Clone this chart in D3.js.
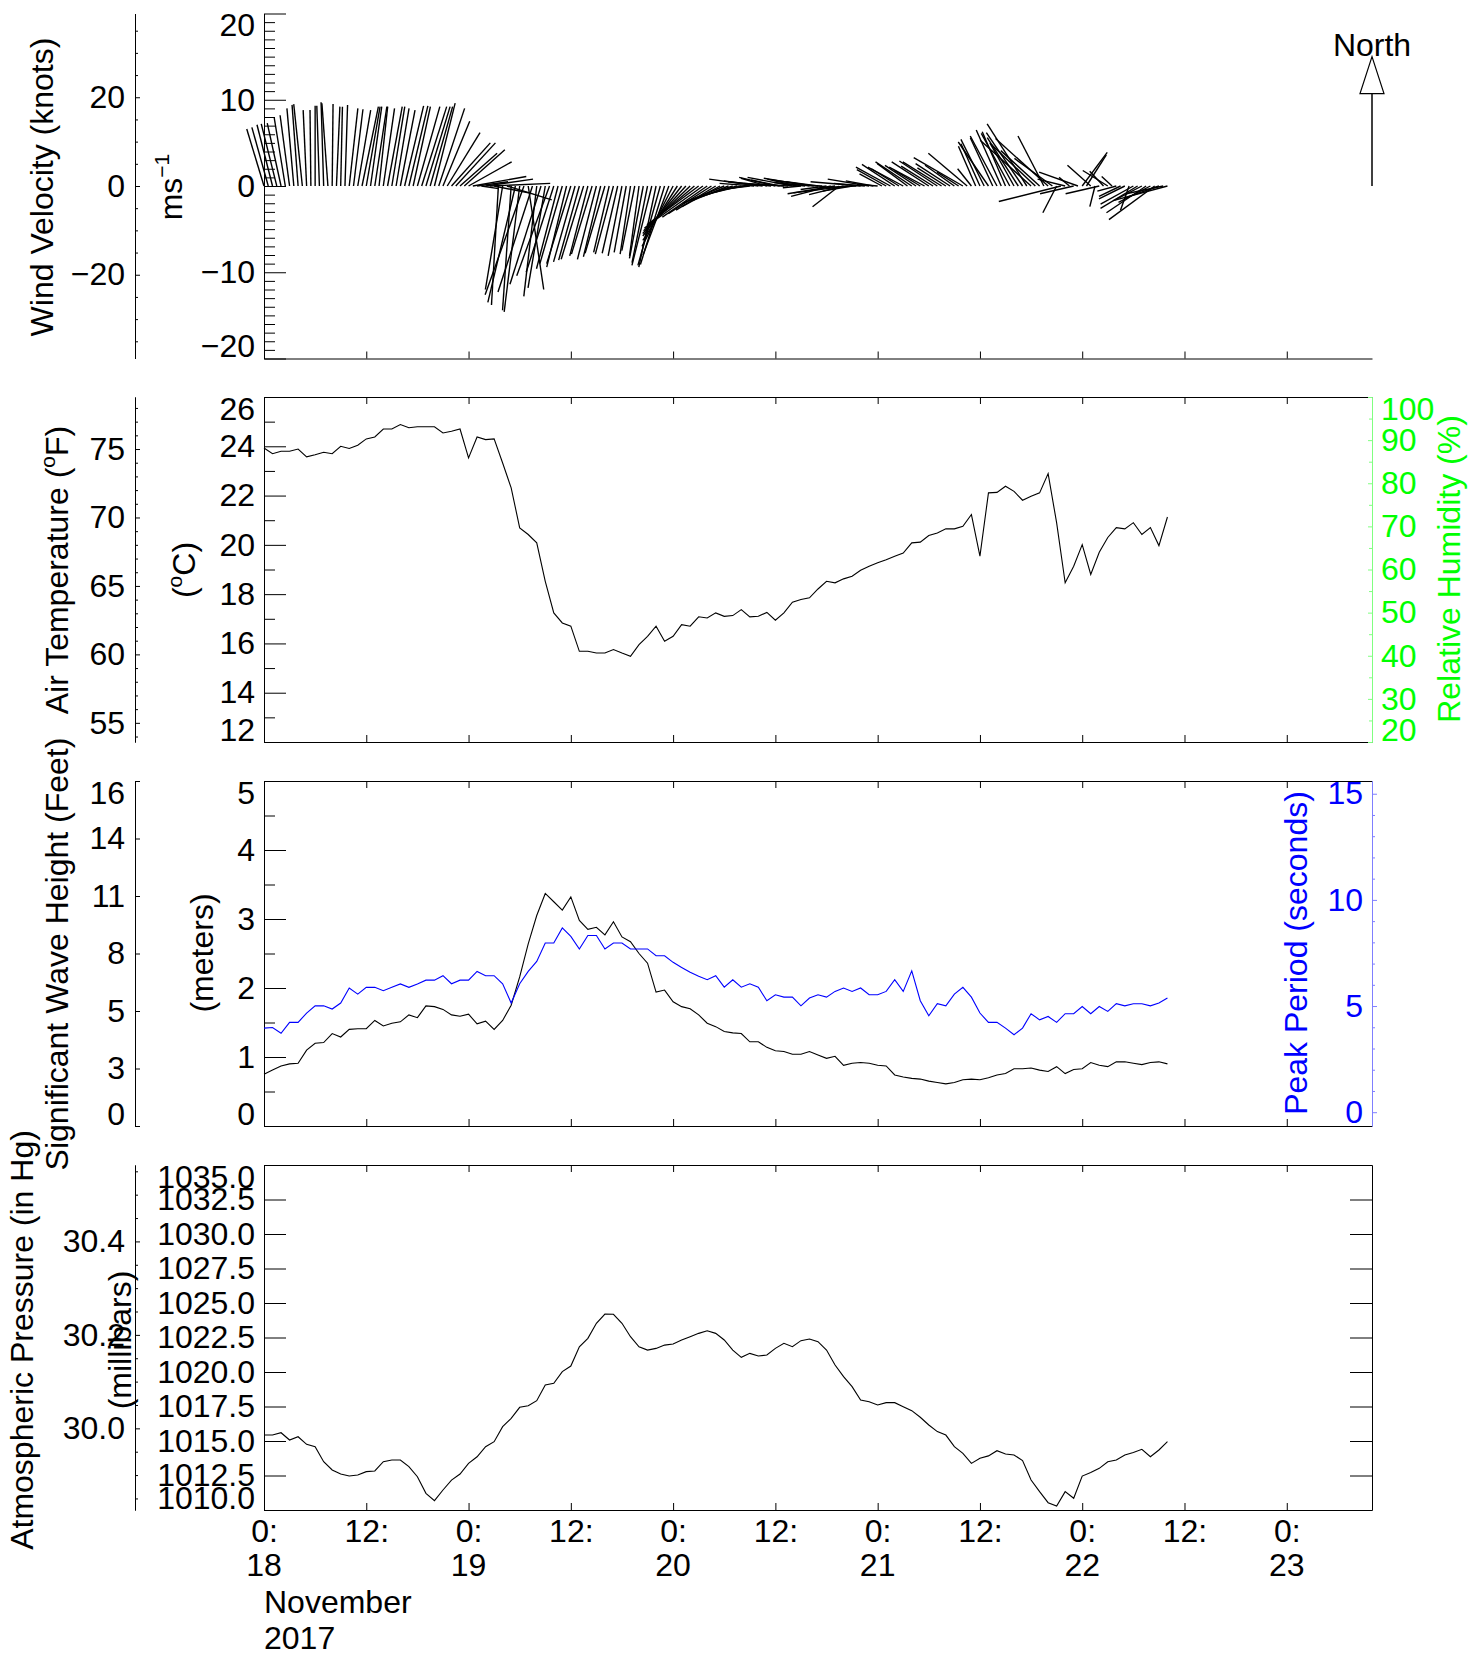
<!DOCTYPE html>
<html>
<head>
<meta charset="utf-8">
<title>Buoy data, November 2017</title>
<script src="https://cdnjs.cloudflare.com/ajax/libs/d3/7.8.5/d3.min.js"></script>
<style>
  body { margin: 0; background: #fff; }
  svg { display: block; }
</style>
</head>
<body>
<div id="chart"></div>
<script>
// ---- data ----
// record starts 18 Nov 2017 00:00; hourly series unless noted
var startTime = Date.UTC(2017, 10, 18, 0);

var tempC = [23.93,23.70,23.80,23.80,23.89,23.57,23.66,23.76,23.70,24.00,
  23.91,24.04,24.30,24.38,24.70,24.70,24.88,24.75,24.79,24.79,
  24.79,24.54,24.61,24.70,23.53,24.38,24.27,24.30,23.32,22.31,
  20.69,20.42,20.08,18.52,17.24,16.83,16.70,15.68,15.68,15.61,
  15.61,15.75,15.61,15.48,15.95,16.29,16.70,16.09,16.29,16.76,
  16.70,17.08,17.03,17.24,17.10,17.13,17.37,17.08,17.10,17.26,
  16.94,17.24,17.67,17.78,17.85,18.21,18.52,18.46,18.62,18.73,
  18.97,19.13,19.27,19.40,19.54,19.67,20.08,20.11,20.38,20.48,
  20.65,20.65,20.75,21.23,19.54,22.11,22.13,22.38,22.17,21.81,
  21.97,22.11,22.89,20.89,18.46,19.13,20.01,18.80,19.70,20.30,
  20.70,20.65,20.90,20.42,20.70,19.97,21.13];

var waveHeightM = [0.75,0.81,0.87,0.90,0.91,1.10,1.20,1.21,1.34,1.29,
  1.40,1.41,1.41,1.53,1.45,1.49,1.51,1.61,1.57,1.74,
  1.73,1.69,1.61,1.59,1.62,1.48,1.52,1.40,1.53,1.75,
  2.16,2.64,3.05,3.37,3.25,3.13,3.32,2.98,2.85,2.88,
  2.77,2.96,2.74,2.67,2.50,2.36,1.94,1.97,1.80,1.73,
  1.70,1.61,1.49,1.44,1.37,1.35,1.34,1.22,1.22,1.14,
  1.09,1.08,1.04,1.04,1.08,1.03,0.98,1.01,0.88,0.91,
  0.92,0.91,0.88,0.87,0.74,0.71,0.69,0.68,0.65,0.63,
  0.61,0.63,0.67,0.68,0.67,0.70,0.74,0.76,0.83,0.83,
  0.84,0.81,0.79,0.86,0.76,0.82,0.83,0.92,0.88,0.86,
  0.93,0.93,0.91,0.89,0.92,0.93,0.90];

var peakPeriodS = [3.96,3.99,3.72,4.23,4.23,4.67,5.01,5.01,4.86,5.14,
  5.85,5.56,5.88,5.88,5.72,5.88,6.04,5.88,6.04,6.22,
  6.22,6.43,6.05,6.22,6.22,6.63,6.43,6.43,6.05,5.14,
  6.05,6.63,7.10,7.97,7.97,8.68,8.28,7.69,8.32,8.32,
  7.69,7.97,7.97,7.69,7.69,7.69,7.37,7.37,7.06,6.82,
  6.59,6.40,6.24,6.43,5.89,6.24,5.89,6.05,5.89,5.25,
  5.53,5.42,5.42,5.01,5.38,5.53,5.42,5.69,5.85,5.69,
  5.85,5.53,5.53,5.69,6.24,5.69,6.66,5.25,4.54,5.11,
  5.01,5.56,5.88,5.42,4.67,4.23,4.23,3.96,3.65,3.96,
  4.64,4.35,4.51,4.23,4.64,4.64,4.98,4.64,4.98,4.75,
  5.11,5.01,5.11,5.11,5.01,5.14,5.38];

var pressureMb = [1015.43,1015.43,1015.60,1015.07,1015.31,1014.76,1014.59,1013.50,1012.90,1012.61,
  1012.46,1012.54,1012.78,1012.83,1013.50,1013.62,1013.62,1013.14,1012.41,1011.21,
  1010.68,1011.45,1012.17,1012.61,1013.38,1013.86,1014.59,1014.95,1016.04,1016.64,
  1017.44,1017.56,1017.92,1019.06,1019.18,1020.03,1020.43,1021.83,1022.44,1023.53,
  1024.20,1024.18,1023.53,1022.56,1021.83,1021.59,1021.71,1021.95,1022.03,1022.32,
  1022.56,1022.80,1022.99,1022.80,1022.32,1021.59,1021.06,1021.35,1021.16,1021.23,
  1021.71,1022.08,1021.83,1022.27,1022.39,1022.20,1021.59,1020.51,1019.66,1018.94,
  1017.97,1017.85,1017.61,1017.78,1017.78,1017.49,1017.20,1016.72,1016.16,1015.68,
  1015.43,1014.59,1014.11,1013.38,1013.75,1013.92,1014.30,1014.06,1013.99,1013.58,
  1012.17,1011.33,1010.53,1010.29,1011.33,1010.85,1012.46,1012.71,1013.02,1013.50,
  1013.62,1013.99,1014.16,1014.40,1013.86,1014.35,1014.95];

// wind every 30 minutes (m/s): u towards east, v towards north
var windU = [-2.0,-1.9,-1.8,-1.8,-1.6,-1.3,-1.1,-0.8,-0.7,-1.0,-0.4,-0.1,0.0,-0.3,-0.3,-0.7,0.1,0.4,0.2,0.3,
  1.0,1.1,1.5,1.9,1.6,1.3,1.4,1.0,1.3,1.7,1.5,1.5,1.7,2.2,2.2,2.0,2.6,2.9,2.8,2.6,2.4,3.0,
  3.1,3.8,4.5,4.6,4.3,4.7,5.0,6.2,3.6,2.0,
  5.5,7.0,4.0,-0.8,-2.0,5.2,-1.0,-3.2,-1.8,-4.5,1.8,-4.0,-1.5,-3.6,-2.0,-3.8,-3.2,-2.5,-2.6,-2.3,
  -2.8,-2.5,-2.4,-2.6,-2.1,-2.4,-2.2,-2.0,-2.3,-1.8,-2.1,-1.8,-1.6,-1.4,-1.2,-1.5,-1.1,-1.6,-1.8,-2.3,
  -2.0,-2.6,-2.8,
  -3.0,-3.6,-4.0,-4.5,-5.0,-5.4,-5.8,-6.0,-5.6,-5.2,-5.0,-4.6,-4.4,-4.8,-4.2,-3.8,-3.5,-3.0,-2.6,
  -2.5,-4.0,-5.7,-4.5,-3.0,-5.0,-4.2,-3.3,-4.6,-3.2,-5.2,-3.4,-2.1,-3.6,-5.3,-4.8,-3.7,-4.4,-3.0,-4.6,
  -5.5,-3.1,-4.0,-6.3,-3.4,-4.3,-5.8,-3.6,-4.8,-3.2,-2.4,
  -2.6,-3.4,-4.0,-3.8,-3.2,-4.1,-3.5,-4.2,-3.6,-3.0,-4.1,-4.3,-3.7,-4.4,-4.5,-3.3,-4.0,-3.4,-2.5,-5.7,
  -4.5,-1.6,-2.0,-2.2,-2.7,-3.5,-2.6,-3.1,-2.9,-2.7,-3.3,-2.8,-3.6,-4.2,-4.6,-5.9,-5.1,-4.5,-3.0,-6.1,
  -4.4,-1.6,-7.2,-3.2,-1.2,-3.9,-4.5,2.9,2.3,-2.7,-0.6,-3.9,-1.6,-2.9,-1.2,-2.2,-2.5,-3.0,-1.0,-3.8,
  -4.3,-3.1,-4.6,-3.7,-5.3,-4.0,-4.3,-6.3];
var windV = [6.6,6.8,7.1,7.2,7.3,8.0,8.2,9.0,9.4,9.5,8.8,8.8,9.3,9.3,9.7,9.6,9.5,9.2,9.2,9.4,
  9.0,8.9,8.8,9.2,9.2,9.2,9.2,9.2,9.0,9.2,9.2,9.0,8.8,9.3,9.3,9.2,9.2,9.2,9.2,9.2,9.6,9.0,
  7.5,6.2,5.0,5.0,3.8,4.2,2.8,1.1,0.5,-0.3,
  0.8,0.3,-0.8,-13.8,-12.0,-1.6,-14.4,-13.5,-14.6,-12.6,-12.0,-12.3,-12.8,-11.4,-11.8,-10.4,-10.0,-9.6,-9.0,-9.4,
  -9.0,-8.8,-8.6,-8.5,-8.1,-7.9,-8.5,-8.2,-7.8,-7.7,-7.9,-7.8,-8.1,-7.7,-7.9,-7.5,-8.1,-8.4,-8.9,-9.2,
  -9.4,-9.2,-9.1,
  -8.0,-7.0,-6.3,-5.8,-5.5,-5.2,-4.9,-4.5,-4.0,-3.6,-3.2,-2.8,-2.4,-2.0,-1.7,-1.3,-1.0,-0.7,-0.4,
  -0.3,0.3,0.8,0.6,0.9,0.5,1.0,0.7,0.3,0.2,1.0,0.8,-0.2,0.4,0.9,0.7,0.5,0.2,-0.4,-1.2,
  -0.9,-2.4,-1.0,-0.8,-0.6,-0.2,0.5,0.3,0.8,0.6,0.2,
  1.4,1.9,2.2,2.5,2.0,2.2,2.6,2.8,2.4,1.8,2.2,2.8,2.3,2.9,2.8,2.1,2.6,2.4,1.6,3.3,
  3.8,2.0,4.6,4.9,5.4,5.1,5.6,5.8,6.5,6.3,6.1,5.0,5.6,6.2,7.2,5.3,4.8,4.1,5.8,5.5,
  3.2,-3.1,-1.8,0.8,1.0,-0.9,1.6,3.9,3.6,2.4,-2.4,-0.9,1.7,1.8,1.1,-0.6,-1.2,-1.5,-2.8,-2.1,
  -2.6,-1.6,-3.1,-1.9,-3.9,-1.4,-0.9,-1.7];

var hourLabels = ['0:', '12:'];
var dayLabels = ['18', '19', '20', '21', '22', '23'];
var monthLabel = 'November';
var yearLabel = '2017';
var feetTickLabels = ['0', '3', '5', '8', '11', '14', '16'];

// ---- layout ----
var width = 1473, height = 1655;
var left = 264, right = 1372, outerX = 135;
var panelTops = [13.5, 397, 781, 1165];
var panelH = 345;
var font = '"Liberation Sans", Arial, Helvetica, sans-serif';
var HOUR = 3600 * 1000;

var svg = d3.select('#chart').append('svg')
    .attr('width', width)
    .attr('height', height)
    .attr('font-family', font)
    .attr('font-size', 32);

svg.append('rect').attr('width', width).attr('height', height).attr('fill', '#fff');

var x = d3.scaleUtc()
    .domain([new Date(startTime), new Date(startTime + 130 * HOUR)])
    .range([left, right]);

function hourly(i) { return new Date(startTime + i * HOUR); }
function halfHourly(i) { return new Date(startTime + i * HOUR / 2); }

var xTicks = d3.utcHour.every(12).range(x.domain()[0], x.domain()[1]);
var dayTicks = d3.utcDay.range(x.domain()[0], x.domain()[1]);

// y axis with ticks pointing into the plot, end labels kept inside the frame
function yAxis(x0, axisFn, scale, majors, minors, fmt, majorLen, minorLen, pad, top, bottom, lineColor, textColor) {
  var g = svg.append('g').attr('transform', 'translate(' + x0 + ',0)');
  if (minors.length) {
    g.append('g').call(axisFn(scale).tickValues(minors).tickSize(-minorLen).tickSizeOuter(0).tickFormat(''));
  }
  var gm = g.append('g').call(axisFn(scale).tickValues(majors).tickSize(-majorLen)
      .tickSizeOuter(0).tickPadding(pad).tickFormat(fmt));
  g.selectAll('path.domain, .tick line').attr('stroke', lineColor);
  gm.selectAll('.tick text')
      .attr('fill', textColor)
      .attr('font-family', font)
      .attr('font-size', 32)
      .attr('transform', function(d) {
        var y = scale(d), s = 0;
        if (y < top + 12) s = top + 12 - y;
        if (y > bottom - 12) s = bottom - 12 - y;
        return 'translate(0,' + s + ')';
      });
  return g;
}

function xFrame(top, bottom, withTop) {
  svg.append('g').attr('transform', 'translate(0,' + bottom + ')')
      .call(d3.axisBottom(x).tickValues(xTicks).tickSize(-7).tickSizeOuter(0).tickFormat(''));
  if (withTop) {
    svg.append('g').attr('transform', 'translate(0,' + top + ')')
        .call(d3.axisTop(x).tickValues(xTicks).tickSize(-7).tickSizeOuter(0).tickFormat(''));
  }
}

// rotated axis title, parts may be superscripts
function title(px, py, parts, color) {
  var t = svg.append('text')
      .attr('transform', 'translate(' + px + ',' + py + ') rotate(-90)')
      .attr('text-anchor', 'middle')
      .attr('fill', color || '#000');
  parts.forEach(function(p) {
    if (p.sup) {
      t.append('tspan').attr('font-size', 21).attr('dy', -13).text(p.sup);
    } else {
      t.append('tspan').attr('dy', p.after ? 13 : 0).text(p.t);
    }
  });
  return t;
}

var fmtInt = d3.format('d');

// ---- panel 1: wind ----
var p1Top = panelTops[0], p1Bot = p1Top + panelH;
var yWind = d3.scaleLinear().domain([-20, 20]).range([p1Bot, p1Top]);
var yKnots = d3.scaleLinear().domain([-20 * 1.94384, 20 * 1.94384]).range([p1Bot, p1Top]);

xFrame(p1Top, p1Bot, false);
yAxis(left, d3.axisLeft, yWind, [-20, -10, 0, 10, 20],
    d3.range(-19, 20).filter(function(v) { return v % 10 !== 0; }),
    fmtInt, 22, 11, 9, p1Top, p1Bot, '#000', '#000');
yAxis(outerX, d3.axisLeft, yKnots, [-20, 0, 20],
    d3.range(-35, 36, 5).filter(function(v) { return v % 20 !== 0; }),
    fmtInt, 5, 3, 10, p1Top, p1Bot, '#000', '#000');

var msPx = yWind(0) - yWind(1);
svg.append('g')
    .attr('stroke', '#000')
    .attr('stroke-width', 1.4)
  .selectAll('line')
  .data(windU)
  .join('line')
    .attr('x1', function(u, i) { return x(halfHourly(i)); })
    .attr('y1', yWind(0))
    .attr('x2', function(u, i) { return x(halfHourly(i)) + u * msPx; })
    .attr('y2', function(u, i) { return yWind(windV[i]); });

// north arrow (15 m/s)
var northX = x.range()[1], northTip = yWind(15);
svg.append('line')
    .attr('x1', northX).attr('x2', northX)
    .attr('y1', yWind(0)).attr('y2', northTip + 30)
    .attr('stroke', '#000').attr('stroke-width', 1.5);
svg.append('path')
    .attr('d', 'M' + northX + ',' + northTip + 'L' + (northX - 12) + ',' + (northTip + 37) +
      'L' + (northX + 12) + ',' + (northTip + 37) + 'Z')
    .attr('fill', '#fff').attr('stroke', '#000').attr('stroke-width', 1.2);
svg.append('text').attr('x', northX).attr('y', 56).attr('text-anchor', 'middle').text('North');

title(53, 187, [{t: 'Wind Velocity (knots)'}]);
title(182, 187, [{t: 'ms'}, {sup: '\u22121'}]);

// ---- panel 2: air temperature ----
var p2Top = panelTops[1], p2Bot = p2Top + panelH;
var yC = d3.scaleLinear().domain([12, 26]).range([p2Bot, p2Top]);
var yF = d3.scaleLinear().domain([12 * 1.8 + 32, 26 * 1.8 + 32]).range([p2Bot, p2Top]);
var yRH = d3.scaleLinear().domain([20, 100]).range([p2Bot, p2Top]);

xFrame(p2Top, p2Bot, true);
yAxis(left, d3.axisLeft, yC, d3.range(12, 27, 2), d3.range(13, 26, 2),
    fmtInt, 22, 11, 9, p2Top, p2Bot, '#000', '#000');
yAxis(outerX, d3.axisLeft, yF, [55, 60, 65, 70, 75],
    d3.range(54, 79).filter(function(v) { return v % 5 !== 0; }),
    fmtInt, 5, 3, 10, p2Top, p2Bot, '#000', '#000');
yAxis(right, d3.axisRight, yRH, d3.range(20, 101, 10), d3.range(25, 100, 10),
    fmtInt, 4, 3, 9, p2Top, p2Bot, '#80ff80', '#00ff00');

svg.append('path')
    .datum(tempC)
    .attr('fill', 'none').attr('stroke', '#000').attr('stroke-width', 1.1)
    .attr('d', d3.line().x(function(d, i) { return x(hourly(i)); }).y(function(d) { return yC(d); }));

title(68, 570, [{t: 'Air Temperature ('}, {sup: 'o'}, {t: 'F)', after: true}]);
title(195, 570, [{t: '('}, {sup: 'o'}, {t: 'C)', after: true}]);
title(1460, 569, [{t: 'Relative Humidity (%)'}], '#00ff00');

// ---- panel 3: waves ----
var p3Top = panelTops[2], p3Bot = p3Top + panelH;
var maxFeet = 5 * 3.28084;
var yM = d3.scaleLinear().domain([0, 5]).range([p3Bot, p3Top]);
var yFt = d3.scaleLinear().domain([0, maxFeet]).range([p3Bot, p3Top]);
var yS = d3.scaleLinear().domain([-0.65, 15.6]).range([p3Bot, p3Top]);

xFrame(p3Top, p3Bot, true);
yAxis(left, d3.axisLeft, yM, d3.range(0, 6), [0.5, 1.5, 2.5, 3.5, 4.5],
    fmtInt, 22, 11, 9, p3Top, p3Bot, '#000', '#000');
yAxis(outerX, d3.axisLeft, yFt,
    feetTickLabels.map(function(l, j) { return j * maxFeet / (feetTickLabels.length - 1); }), [],
    function(d, i) { return feetTickLabels[i]; }, 5, 3, 10, p3Top, p3Bot, '#000', '#000');
yAxis(right, d3.axisLeft, yS, [0, 5, 10, 15],
    d3.range(1, 15).filter(function(v) { return v % 5 !== 0; }),
    fmtInt, 5, 3, 9, p3Top, p3Bot, '#7f7fff', '#0000ff');

svg.append('path')
    .datum(waveHeightM)
    .attr('fill', 'none').attr('stroke', '#000').attr('stroke-width', 1.1)
    .attr('d', d3.line().x(function(d, i) { return x(hourly(i)); }).y(function(d) { return yM(d); }));
svg.append('path')
    .datum(peakPeriodS)
    .attr('fill', 'none').attr('stroke', '#0000ff').attr('stroke-width', 1.1)
    .attr('d', d3.line().x(function(d, i) { return x(hourly(i)); }).y(function(d) { return yS(d); }));

title(68, 954, [{t: 'Significant Wave Height (Feet)'}]);
title(213, 953, [{t: '(meters)'}]);
title(1307, 953, [{t: 'Peak Period (seconds)'}], '#0000ff');

// ---- panel 4: pressure ----
var p4Top = panelTops[3], p4Bot = p4Top + panelH;
var yP = d3.scaleLinear().domain([1010, 1035]).range([p4Bot, p4Top]);
var yIn = d3.scaleLinear().domain([1010 / 33.8639, 1035 / 33.8639]).range([p4Bot, p4Top]);

svg.append('g').attr('transform', 'translate(0,' + p4Top + ')')
    .call(d3.axisTop(x).tickValues(xTicks).tickSize(-7).tickSizeOuter(0).tickFormat(''));
var gx = svg.append('g').attr('transform', 'translate(0,' + p4Bot + ')')
    .call(d3.axisBottom(x).tickValues(xTicks).tickSize(-7).tickSizeOuter(0).tickPadding(9)
      .tickFormat(function(d, i) { return hourLabels[i % 2]; }));
gx.selectAll('text').attr('font-family', font).attr('font-size', 32).attr('fill', '#000');

svg.append('g').selectAll('text')
  .data(dayTicks)
  .join('text')
    .attr('x', function(d) { return x(d); })
    .attr('y', 1576)
    .attr('text-anchor', 'middle')
    .text(function(d, i) { return dayLabels[i]; });
svg.append('text').attr('x', x(dayTicks[0])).attr('y', 1613).text(monthLabel);
svg.append('text').attr('x', x(dayTicks[0])).attr('y', 1649).text(yearLabel);

var pressTicks = d3.range(0, 11).map(function(j) { return 1010 + j * 2.5; });
yAxis(left, d3.axisLeft, yP, pressTicks, [], d3.format('.1f'), 22, 11, 9, p4Top, p4Bot, '#000', '#000');
svg.append('g').attr('transform', 'translate(' + right + ',0)')
    .call(d3.axisRight(yP).tickValues(pressTicks).tickSize(-22).tickSizeOuter(0).tickFormat(''));
yAxis(outerX, d3.axisLeft, yIn, [30.0, 30.2, 30.4],
    d3.range(597, 612).filter(function(v) { return v % 4 !== 0; }).map(function(v) { return v / 20; }),
    d3.format('.1f'), 5, 3, 10, p4Top, p4Bot, '#000', '#000');

svg.append('path')
    .datum(pressureMb)
    .attr('fill', 'none').attr('stroke', '#000').attr('stroke-width', 1.1)
    .attr('d', d3.line().x(function(d, i) { return x(hourly(i)); }).y(function(d) { return yP(d); }));

title(33, 1340, [{t: 'Atmospheric Pressure (in Hg)'}]);
title(131, 1340, [{t: '(millibars)'}]);
</script>
</body>
</html>
